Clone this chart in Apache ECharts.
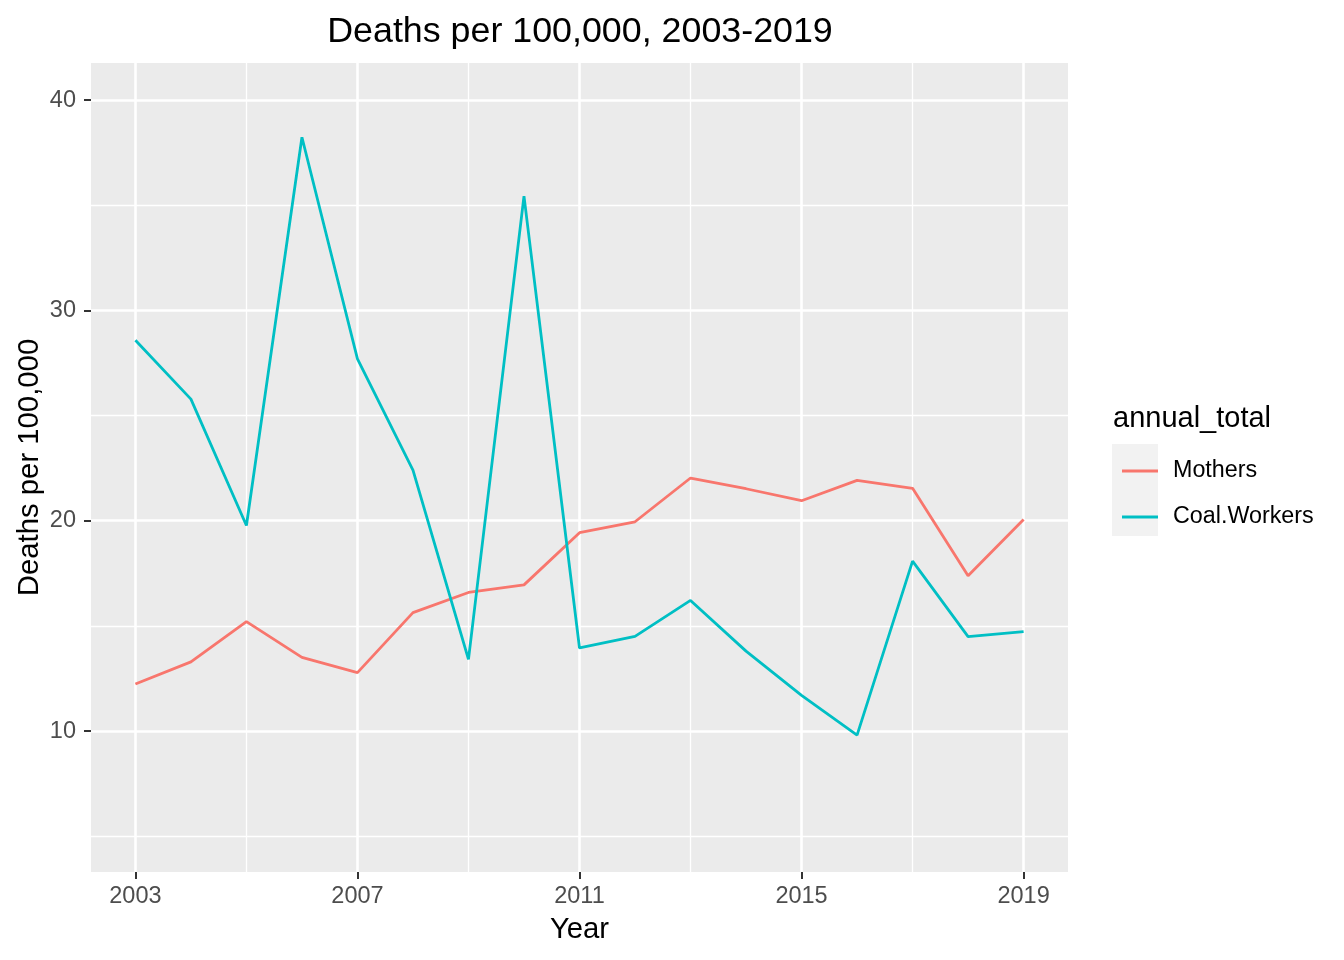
<!DOCTYPE html>
<html><head><meta charset="utf-8">
<script src="https://cdn.jsdelivr.net/npm/echarts@6/dist/echarts.min.js"></script>
<style>html,body{margin:0;padding:0;background:#fff}#c{width:1344px;height:960px}</style>
</head><body><div id="c"></div>
<script>
const years = [2003,2004,2005,2006,2007,2008,2009,2010,2011,2012,2013,2014,2015,2016,2017,2018,2019];
const mothers = [12.24,13.29,15.20,13.50,12.78,15.63,16.59,16.95,19.43,19.95,22.03,21.52,20.95,21.92,21.54,17.38,20.06];
const coalWorkers = [28.58,25.78,19.77,38.23,27.69,22.41,13.41,35.43,13.95,14.50,16.21,13.80,11.70,9.81,18.08,14.49,14.73];
const seriesNames = ['Mothers','Coal.Workers'];
const xMajorTicks = [2003,2007,2011,2015,2019];
const xMinorTicks = [2005,2009,2013,2017];
const yMajorTicks = [10,20,30,40];
const yMinorTicks = [5,15,25,35];

const FONT = '"Liberation Sans", Arial, Helvetica, sans-serif';
const chart = echarts.init(document.getElementById('c'), null, {renderer:'canvas'});
const toPairs = arr => years.map((y,i)=>[y,arr[i]]);
const majorAxis = (ticks, extra) => Object.assign({
  type:'value', min: extra.min, max: extra.max,
  axisLine:{show:false},
  axisTick:{show:true, customValues:ticks, length:7, lineStyle:{color:'#333333', width:2}},
  axisLabel:{customValues:ticks, color:'#4D4D4D', fontSize:23.5, fontFamily:FONT, formatter:v=>String(v)},
  splitLine:{show:true, lineStyle:{color:'#FFFFFF', width:2.6}},
  minorTick:{show:false}
}, extra);
const minorAxis = (ticks, extra) => Object.assign({
  type:'value', min: extra.min, max: extra.max,
  axisLine:{show:false},
  axisTick:{show:false, customValues:ticks},
  axisLabel:{show:false},
  splitLine:{show:true, lineStyle:{color:'#FFFFFF', width:1.3}}
}, extra);

chart.setOption({
  animation:false,
  backgroundColor:'#FFFFFF',
  title:[
    {text:'Deaths per 100,000, 2003-2019', left:575, top:9, textAlign:'center',
     textStyle:{fontSize:35.8, fontWeight:'normal', color:'#000', fontFamily:FONT}},
    {text:'annual_total', left:1108, top:399,
     textStyle:{fontSize:29, fontWeight:'normal', color:'#000', fontFamily:FONT}}
  ],
  graphic:[{type:'rect', left:1112, top:444, shape:{width:46, height:92}, style:{fill:'#F2F2F2'}, z:-1}],
  legend:{
    data:seriesNames, orient:'vertical', left:1117, top:443, itemGap:0,
    icon:'rect', itemWidth:36, itemHeight:3,
    textStyle:{fontSize:23.3, color:'#000', fontFamily:FONT, lineHeight:46, padding:[0,0,0,10]}
  },
  grid:{left:91, right:276, top:63, bottom:88, show:true, backgroundColor:'#EBEBEB', borderWidth:0},
  xAxis:[
    majorAxis(xMajorTicks, {min:2002.2, max:2019.8, position:'bottom',
      name:'Year', nameLocation:'middle', nameGap:43, nameMoveOverlap:false,
      nameTextStyle:{fontSize:29.3, color:'#000', fontFamily:FONT},
      axisLabel:{customValues:xMajorTicks, color:'#4D4D4D', fontSize:23.5, fontFamily:FONT, margin:13, formatter:v=>String(v)}}),
    minorAxis(xMinorTicks, {min:2002.2, max:2019.8, position:'bottom'})
  ],
  yAxis:[
    majorAxis(yMajorTicks, {min:3.3, max:41.76, position:'left',
      name:'Deaths per 100,000', nameLocation:'middle', nameGap:47, nameMoveOverlap:false,
      nameTextStyle:{fontSize:29.3, color:'#000', fontFamily:FONT},
      axisLabel:{customValues:yMajorTicks, color:'#4D4D4D', fontSize:23.5, fontFamily:FONT, margin:15, formatter:v=>String(v)}}),
    minorAxis(yMinorTicks, {min:3.3, max:41.76, position:'left'})
  ],
  series:[
    {name:seriesNames[0], type:'line', data:toPairs(mothers), showSymbol:false, symbol:'none',
     lineStyle:{color:'#F8766D', width:2.8}, itemStyle:{color:'#F8766D'}, z:3},
    {name:seriesNames[1], type:'line', data:toPairs(coalWorkers), showSymbol:false, symbol:'none',
     lineStyle:{color:'#00BFC4', width:2.8}, itemStyle:{color:'#00BFC4'}, z:3}
  ]
});
</script></body></html>
